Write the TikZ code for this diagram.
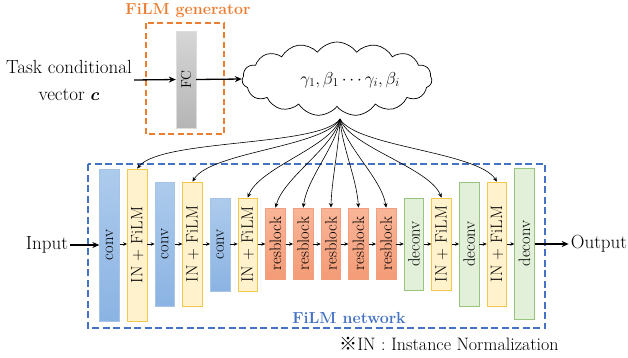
\documentclass[tikz,border=0pt]{standalone}
\usepackage{fontspec}
\usepackage{bm}
\newfontfamily\cjk{Noto Sans CJK JP}
\usetikzlibrary{shapes.symbols,arrows.meta,calc}
\definecolor{orangeF}{HTML}{ED7D31}
\definecolor{blueF}{HTML}{4472C4}
\definecolor{convtop}{HTML}{ADCBEC}
\definecolor{convbot}{HTML}{8BB3E3}
\definecolor{convline}{HTML}{A7C4E6}
\definecolor{infill}{HTML}{FFF2CC}
\definecolor{inline}{HTML}{F2C94C}
\definecolor{restop}{HTML}{F9B598}
\definecolor{resbot}{HTML}{F49B76}
\definecolor{resline}{HTML}{F0A07F}
\definecolor{dcfill}{HTML}{E2EFD9}
\definecolor{dcline}{HTML}{97C47E}
\definecolor{fctop}{HTML}{D6D6D6}
\definecolor{fcbot}{HTML}{B5B5B5}
\begin{document}
\begin{tikzpicture}[x=1pt,y=-1pt,
  blk/.style={minimum width=19.5pt, inner sep=0pt, line width=0.8pt,
    font=\fontsize{16.5}{16.5}\selectfont},
  convb/.style={blk, draw=convline, top color=convtop, bottom color=convbot, minimum height=#1},
  inb/.style={blk, draw=inline, fill=infill, minimum height=#1},
  resb/.style={blk, draw=resline, top color=restop, bottom color=resbot, minimum height=71pt},
  dcb/.style={blk, draw=dcline, fill=dcfill, minimum height=#1},
  small/.style={-{Stealth[length=4pt,width=3.5pt]}, line width=0.6pt},
  fanarrow/.style={-{Stealth[length=4.5pt,width=4pt]}, line width=0.6pt},
  big/.style={-{Stealth[length=7pt,width=6pt]}, line width=1.3pt},
  lbl/.style={font=\fontsize{19}{22}\selectfont, inner sep=2pt}]
\useasboundingbox (0,0) rectangle (628,357);

% FiLM generator
\node[font=\fontsize{16}{16}\selectfont\bfseries, text=orangeF] (gentitle) at (188,11) {FiLM generator};
\draw[orangeF, line width=1.8pt, dash pattern=on 6pt off 3.5pt] (146,23) rectangle (224,134);
\node[draw=fctop!80!black!40, top color=fctop, bottom color=fcbot, minimum width=20pt, minimum height=97pt, inner sep=0pt,
  font=\fontsize{14}{14}\selectfont] (fc) at (186,79.5) {\rotatebox{90}{FC}};

\node[lbl, align=center, font=\fontsize{19}{27}\selectfont] (task) at (69,80) {Task conditional\\vector $\bm{c}$};
\draw[big] (task.east) -- (fc.west);

% cloud
\node[cloud, draw, cloud puffs=15, cloud puff arc=110, aspect=2.6,
  minimum width=190pt, minimum height=74pt, line width=0.7pt] (cloud) at (337,79) {};
\node[font=\fontsize{17.5}{17.5}\selectfont] (params) at (350,80) {$\gamma_1,\beta_1\cdots\gamma_i,\beta_i$};
\draw[big] (fc.east) -- (cloud.west);
\coordinate (fan) at (340,119);

% FiLM network box
\draw[blueF, line width=1.8pt, dash pattern=on 7pt off 3.5pt] (88,164) rectangle (545,328);
\node[font=\fontsize{16}{16}\selectfont\bfseries, text=blueF] (nettitle) at (349,318) {FiLM network};

% blocks
\node[convb=152pt] (c1) at (109.5,245) {\rotatebox{90}{conv}};
\node[inb=152pt]   (in1) at (137.2,245) {\rotatebox{90}{IN + FiLM}};
\node[convb=124pt] (c2) at (164.8,244) {\rotatebox{90}{conv}};
\node[inb=124pt]   (in2) at (192.5,244) {\rotatebox{90}{IN + FiLM}};
\node[convb=93pt]  (c3) at (220.2,244.5) {\rotatebox{90}{conv}};
\node[inb=93pt]    (in3) at (247.8,244.5) {\rotatebox{90}{IN + FiLM}};
\node[resb] (r1) at (275.5,243.5) {\rotatebox{90}{resblock}};
\node[resb] (r2) at (303.2,243.5) {\rotatebox{90}{resblock}};
\node[resb] (r3) at (330.9,243.5) {\rotatebox{90}{resblock}};
\node[resb] (r4) at (358.5,243.5) {\rotatebox{90}{resblock}};
\node[resb] (r5) at (386.2,243.5) {\rotatebox{90}{resblock}};
\node[dcb=92pt]  (d1) at (413.9,244) {\rotatebox{90}{deconv}};
\node[inb=92pt]  (in4) at (441.5,244) {\rotatebox{90}{IN + FiLM}};
\node[dcb=124pt] (d2) at (469.2,244) {\rotatebox{90}{deconv}};
\node[inb=124pt] (in5) at (496.9,244) {\rotatebox{90}{IN + FiLM}};
\node[dcb=151pt] (d3) at (524.5,243.5) {\rotatebox{90}{deconv}};

\foreach \a/\b in {c1/in1,in1/c2,c2/in2,in2/c3,c3/in3,in3/r1,r1/r2,r2/r3,r3/r4,r4/r5,r5/d1,d1/in4,in4/d2,d2/in5,in5/d3}
  \draw[small] (\a.east |- 0,244) -- (\b.west |- 0,244);

\node[lbl] (input) at (47,245) {Input};
\node[lbl] (output) at (599,244) {Output};
\draw[big] (input.east) -- (c1.west |- input.east);
\draw[big] (d3.east |- output.west) -- (output.west);

% fan-out curves
\foreach \t/\p/\q in {in1/-20/24, in2/-15/18, in3/-9/11, r1/-6/8, r2/-4/4, r3/-1/1, r4/2/-2, r5/5/-5, in4/10/-12, in5/16/-19}
  \draw[fanarrow] (fan) .. controls ($(fan)+(\p,28)$) and ($(\t.north)+(\q,-30)$) .. (\t.north);

% footnote
\node[font=\fontsize{18}{18}\selectfont] (note) at (449,344) {{\cjk ※}IN : Instance Normalization};
\end{tikzpicture}
\end{document}
